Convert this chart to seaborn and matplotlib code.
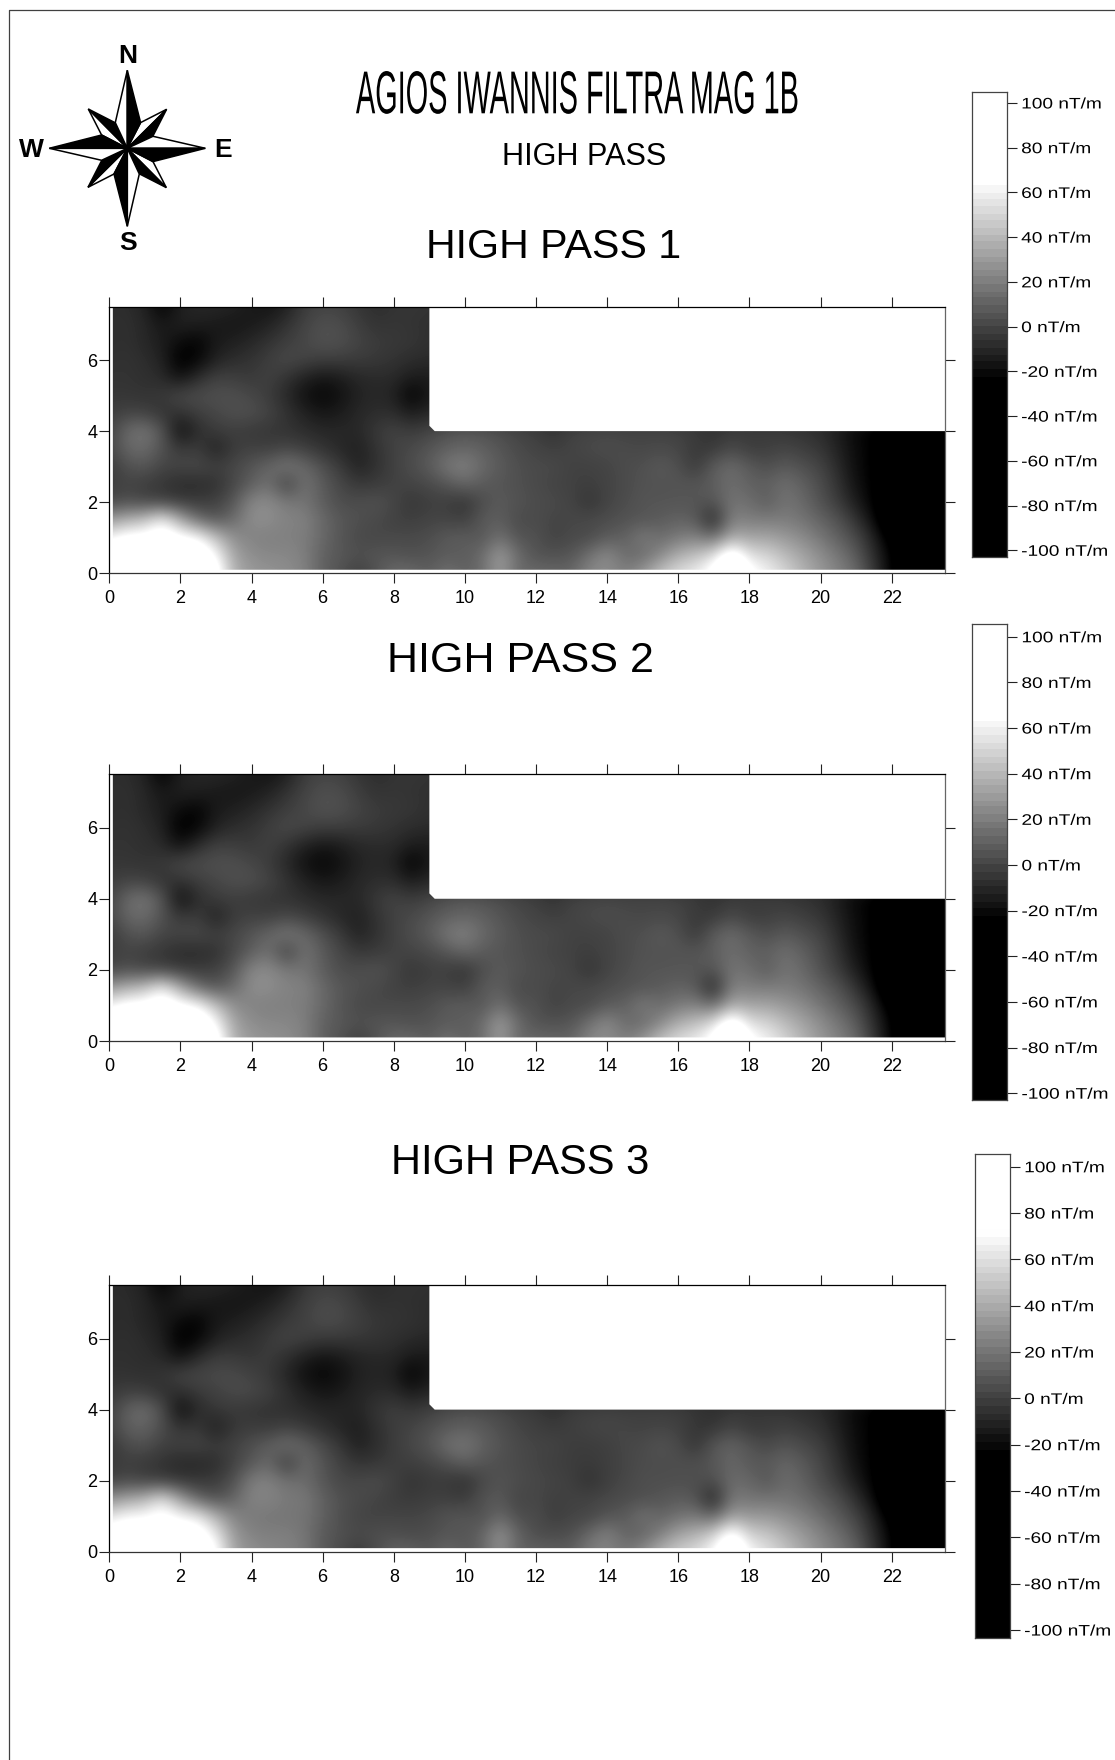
import numpy as np
import matplotlib
matplotlib.use('Agg')
import matplotlib.pyplot as plt
import matplotlib.patheffects as pe
import seaborn as sns
from matplotlib.colors import LinearSegmentedColormap, Normalize
from matplotlib.patches import Polygon
from matplotlib.transforms import Affine2D

# magnetic gradient, nT/m, grid step 0.5 m
# west part: x = 0 .. 9, one row per y = 0 .. 7.5
west_y00 = [90, 90, 90, 90, 90, 90, 80, 38, 30, 28, 26, 22, 10, 5, -3, 5, 14, 14, 8]
west_y05 = [85, 90, 90, 90, 90, 85, 66, 34, 26, 24, 24, 21, 10, 7, 4, 6, 6, 4, 6]
west_y10 = [62, 72, 72, 80, 70, 66, 44, 26, 22, 21, 21, 20, 13, 6, 2, 1, 2, 2, 3]
west_y15 = [30, 38, 44, 62, 36, 14, 6, 14, 26, 26, 22, 22, 13, 7, 4, 2, -1, -2, 0]
west_y20 = [0, 4, 1, -1, -3, -3, -1, 6, 24, 25, 19, 17, 9, 3, 3, 5, 1, -5, -2]
west_y25 = [-3, 0, -3, -5, -9, -9, -7, 1, 9, 16, -3, 17, 8, 1, -4, -3, -1, 0, 2]
west_y30 = [-4, 4, 7, 0, 1, 2, -1, 1, 6, 12, 19, 13, 4, -3, -12, -7, -1, 3, 8]
west_y35 = [0, 12, 14, 5, -4, -2, -13, -3, -1, -2, 1, -2, -6, -10, -13, -6, -1, 2, 6]
west_y40 = [-1, 13, 18, 6, -20, -8, -3, -2, -4, -5, -6, -8, -10, -10, -10, -4, 0, -3, 0]
west_y45 = [-3, 0, -1, -6, -6, -2, 1, 4, 4, 0, -6, -12, -16, -14, -10, -8, -8, -14, -10]
west_y50 = [-5, -5, -6, -4, 2, 3, 4, 4, 1, -3, -10, -18, -22, -18, -12, -10, -12, -24, -15]
west_y55 = [-6, -6, -7, -9, -18, -8, -1, -2, -4, -1, -6, -12, -16, -14, -10, -9, -9, -14, -14]
west_y60 = [-7, -6, -8, -12, -26, -22, -12, -8, -6, -2, 2, 0, -2, -2, -3, -4, -6, -8, -9]
west_y65 = [-8, -7, -10, -14, -20, -23, -15, -13, -10, -6, -2, 1, 5, 4, 0, -3, -4, -5, -7]
west_y70 = [-8, -7, -10, -16, -12, -13, -15, -16, -15, -12, -6, 0, 4, 3, -2, -6, -5, -6, -7]
west_y75 = [-8, -8, -12, -24, -13, -10, -10, -12, -15, -17, -13, -3, 0, -1, -5, -8, -6, -5, -6]
# east part: x = 9.5 .. 23.5, y = 0 .. 4 (nothing measured above y = 4)
east_y00 = [17, 10, 14, 32, 12, 14, 12, 12, 24, 26, 20, 30, 46, 55, 60, 74, 100, 72, 62, 52, 40, 30, 22, 14, -4, -24, -40, -40, -40]
east_y05 = [8, 8, 14, 32, 14, 5, 5, 6, 16, 26, 14, 13, 24, 38, 44, 55, 85, 55, 52, 42, 34, 26, 18, 8, -8, -24, -40, -40, -40]
east_y10 = [8, 9, 6, 16, 5, 5, -1, 2, 2, 8, 10, 20, 14, 19, 22, 14, 36, 34, 34, 30, 25, 18, 10, 2, -12, -30, -40, -40, -40]
east_y15 = [0, -2, 8, 9, 2, 3, 0, 1, 2, 3, 5, 6, 8, 11, 8, -12, 22, 20, 20, 20, 17, 11, 5, -6, -20, -40, -40, -40, -40]
east_y20 = [-2, -6, 3, 8, 5, 3, 2, 0, -6, 0, 3, 6, 6, 6, 6, 6, 17, 15, 8, 17, 13, 5, -3, -14, -24, -40, -40, -40, -40]
east_y25 = [6, 12, 8, 6, 4, 2, 0, -1, -2, 0, 2, 5, 5, 6, 6, 9, 15, 10, 10, 15, 10, 3, -6, -18, -24, -40, -40, -40, -40]
east_y30 = [18, 22, 13, 8, 4, 2, 2, -1, -1, 0, 3, 4, 8, 4, -4, 9, 14, 8, 3, 8, 4, 0, -9, -20, -24, -40, -40, -40, -40]
east_y35 = [10, 12, 10, 6, 2, 0, -2, 0, 2, 3, 2, 1, 2, 1, -4, -4, 2, -3, -2, 0, -2, -5, -12, -20, -24, -40, -40, -40, -40]
east_y40 = [4, 6, 5, 3, 0, -2, -6, -1, 0, 1, 0, 0, 0, -1, -3, -6, -3, -3, -3, -4, -6, -8, -14, -22, -24, -40, -40, -40, -40]

west_rows = [west_y00, west_y05, west_y10, west_y15, west_y20, west_y25, west_y30, west_y35,
             west_y40, west_y45, west_y50, west_y55, west_y60, west_y65, west_y70, west_y75]
east_rows = [east_y00, east_y05, east_y10, east_y15, east_y20, east_y25, east_y30, east_y35, east_y40]

titles = ['HIGH PASS 1', 'HIGH PASS 2', 'HIGH PASS 3']
map_xticks = [0, 2, 4, 6, 8, 10, 12, 14, 16, 18, 20, 22]
map_yticks = [0, 2, 4, 6]
cbar_ticks = [100, 80, 60, 40, 20, 0, -20, -40, -60, -80, -100]
cbar_labels = ['100 nT/m', '80 nT/m', '60 nT/m', '40 nT/m', '20 nT/m', '0 nT/m',
               '-20 nT/m', '-40 nT/m', '-60 nT/m', '-80 nT/m', '-100 nT/m']
white_from = [66, 66, 73]   # grey ramp top of each panel
black_to = -24

W, H = 1115, 1760


class Squeeze(pe.AbstractPathEffect):
    # the original labels are stretched out of shape, text objects can't do that alone
    def __init__(self, sx, sy=1, center=False):
        super().__init__()
        self.sx = sx
        self.sy = sy
        self.center = center

    def draw_path(self, renderer, gc, tpath, affine, rgbFace=None):
        t = Affine2D().scale(self.sx, self.sy)
        if self.center:
            w = tpath.get_extents().width
            t = Affine2D().translate(-w / 2, 0).scale(self.sx, self.sy).translate(w / 2, 0)
        renderer.draw_path(gc, tpath, t + affine, rgbFace)


def px_axes(left, top, right, bottom):
    return fig.add_axes([left / W, 1 - bottom / H, (right - left) / W, (bottom - top) / H])


sns.set_theme(style='ticks', rc={'text.color': 'black', 'xtick.color': 'black', 'ytick.color': 'black'})
plt.rcParams['font.family'] = ['Liberation Sans', 'DejaVu Sans']

fig = plt.figure(figsize=(W / 100, H / 100), dpi=100, facecolor='white')

# the measured values, padded past x = 9 where there is no survey
west = np.array(west_rows, dtype=float)
east = np.array(east_rows, dtype=float)
grid = np.hstack([west, np.repeat(west[:, -1:], east.shape[1], axis=1)])
grid[:east.shape[0], west.shape[1]:] = east

map_boxes = [(109.3, 306.7, 945, 573.3), (109.3, 774.3, 945, 1041), (109.3, 1285.3, 945, 1551.7)]
cbar_boxes = [(972, 92, 1007, 557), (972.3, 624, 1007.3, 1100), (975.3, 1154, 1010, 1637.7)]
cbar_ranges = [(104.9, -103), (105.6, -103), (105.5, -103.3)]

for i in range(3):
    stops = [(0, 'black'), ((black_to + 105) / 210, 'black'),
             ((white_from[i] + 105) / 210, 'white'), (1, 'white')]
    map_cmap = LinearSegmentedColormap.from_list('mag', stops, N=512)
    bar_cmap = LinearSegmentedColormap.from_list('mag_bar', stops, N=66)
    norm = Normalize(-105, 105)

    ax = px_axes(*map_boxes[i])
    im = ax.imshow(grid, origin='lower', extent=(-0.25, 23.75, -0.25, 7.75), aspect='auto',
                   cmap=map_cmap, norm=norm, interpolation='bicubic')
    outline = Polygon([(0.1, 0.1), (23.5, 0.1), (23.5, 4), (9.15, 4), (9, 4.15), (9, 7.5), (0.1, 7.5)],
                      transform=ax.transData, facecolor='none', edgecolor='none')
    ax.add_patch(outline)
    im.set_clip_path(outline)
    ax.set_xlim(0, 23.5)
    ax.set_ylim(0, 7.5)
    ax.set_xticks(map_xticks)
    ax.set_yticks(map_yticks)
    ax.tick_params(axis='both', which='major', direction='out', length=7.2, width=0.8, labelsize=13, color='#222222')
    ax.tick_params(axis='x', top=True, bottom=True, labeltop=False, pad=5)
    ax.tick_params(axis='y', left=True, right=True, labelright=False, pad=1.5)
    for side in ax.spines:
        ax.spines[side].set_visible(True)
        ax.spines[side].set_linewidth(0.9)
        ax.spines[side].set_color('black')
    ax.spines['right'].set_color('#666666')
    ax.spines['bottom'].set_color('#333333')

    # colour scale next to the map
    cax = px_axes(*cbar_boxes[i])
    top_val, bot_val = cbar_ranges[i]
    levels = np.linspace(top_val, bot_val, 240).reshape(-1, 1)
    sns.heatmap(levels, ax=cax, cmap=bar_cmap, norm=norm, cbar=False, xticklabels=False, yticklabels=False)
    pos = [(top_val - v) / (top_val - bot_val) * levels.shape[0] for v in cbar_ticks]
    cax.yaxis.tick_right()
    cax.set_yticks(pos)
    cax.set_yticklabels(cbar_labels, rotation=0)
    cax.tick_params(axis='y', right=True, left=False, length=7.2, width=0.8, pad=3, labelsize=11, color='#222222')
    for lab in cax.get_yticklabels():
        lab.set_path_effects([Squeeze(1.25)])
    for side in cax.spines:
        cax.spines[side].set_visible(True)
        cax.spines[side].set_linewidth(0.9)
        cax.spines[side].set_color('#444444')

# page frame, headings and north arrow sit on a pixel overlay
over = fig.add_axes([0, 0, 1, 1], facecolor='none')
over.set_xlim(0, W)
over.set_ylim(H, 0)
over.axis('off')
over.plot([1115, 9.3, 9.3], [10.3, 10.3, 1760], color='#404040', lw=0.9, clip_on=False)

# tall thin title: half size text pulled up to full height, box stays clear of the scale labels
over.text(577, 113.3, 'AGIOS IWANNIS FILTRA MAG 1B', fontsize=21.8, ha='center', va='baseline',
          path_effects=[Squeeze(0.954, sy=2, center=True)])
over.text(501.5, 165, 'HIGH PASS', fontsize=22.1, ha='left', va='baseline')
over.text(426, 258.5, titles[0], fontsize=29.6, ha='left', va='baseline')
over.text(387, 672.5, titles[1], fontsize=31, ha='left', va='baseline')
over.text(391, 1174, titles[2], fontsize=30, ha='left', va='baseline')

cx, cy = 127.3, 148.3
# one quarter of the rose, rotated round: vane tip, shoulder points, relative to centre
n_tip, n_r, n_l = (0, -78), (13.3, -25.7), (-12, -25.7)
ne_tip = (39.3, -39)
e_sh = (26, -13)
for k in range(4):
    rot = Affine2D().rotate_deg(90 * k).translate(cx, cy)
    over.fill(*rot.transform([(0, 0), ne_tip, n_r]).T, facecolor='white', edgecolor='black', lw=1.1, zorder=3, joinstyle='miter')
    over.fill(*rot.transform([(0, 0), ne_tip, e_sh]).T, facecolor='black', edgecolor='black', lw=1.1, zorder=3, joinstyle='miter')
for k in range(4):
    rot = Affine2D().rotate_deg(90 * k).translate(cx, cy)
    over.fill(*rot.transform([(0, 0), n_tip, n_l]).T, facecolor='white', edgecolor='black', lw=1.1, zorder=4, joinstyle='miter')
    over.fill(*rot.transform([(0, 0), n_tip, n_r]).T, facecolor='black', edgecolor='black', lw=1.1, zorder=4, joinstyle='miter')

for lab, x, y in [('N', 128, 63), ('S', 128, 250), ('E', 223, 157), ('W', 31, 157)]:
    over.text(x, y, lab, fontsize=19, fontweight='bold', ha='center', va='baseline')

fig.savefig('out.png', dpi=100, facecolor='white')
